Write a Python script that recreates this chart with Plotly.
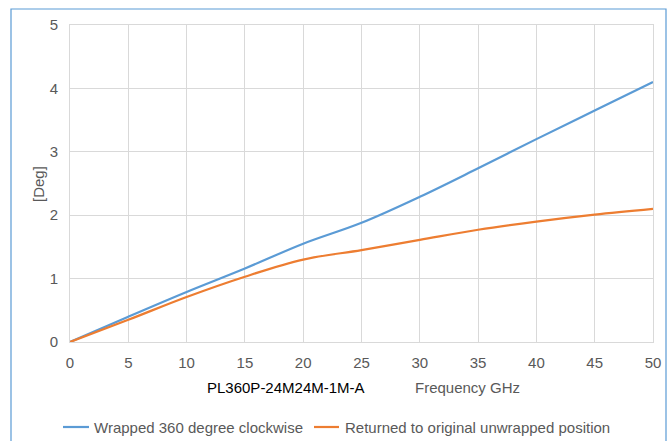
import plotly.graph_objects as go

freq = [0, 5, 10, 15, 20, 25, 30, 35, 40, 45, 50]
wrapped = [0, 0.40, 0.79, 1.16, 1.55, 1.88, 2.29, 2.74, 3.20, 3.65, 4.10]
returned = [0, 0.35, 0.71, 1.03, 1.30, 1.45, 1.61, 1.77, 1.90, 2.01, 2.10]
series_names = ["Wrapped 360 degree clockwise", "Returned to original unwrapped position"]
x_ticks = list(range(0, 51, 5))
y_ticks = [0, 1, 2, 3, 4, 5]

FONT = "Liberation Sans, Arial, sans-serif"
GRAY = "#595959"
BLUE = "#5B9BD5"
ORANGE = "#ED7D31"
FS = 15

fig = go.Figure()
fig.add_trace(go.Scatter(x=freq, y=wrapped, mode="lines", name=series_names[0],
                         line=dict(color=BLUE, width=2.2, shape="spline", smoothing=1.0)))
fig.add_trace(go.Scatter(x=freq, y=returned, mode="lines", name=series_names[1],
                         line=dict(color=ORANGE, width=2.2, shape="spline", smoothing=1.0)))

L, R, T, B = 70, 18, 25, 99
W, H = 671, 441
pw, ph = W - L - R, H - T - B

def px_x(px):
    return (px - L) / pw

def px_y(py):
    return (H - B - py) / ph

fig.update_layout(
    width=W, height=H,
    margin=dict(l=L, r=R, t=T, b=B, autoexpand=False),
    paper_bgcolor="white", plot_bgcolor="white",
    font=dict(family=FONT, size=FS, color=GRAY),
    showlegend=False,
    xaxis=dict(range=[0, 50], tickvals=x_ticks, showgrid=True, gridcolor="#d9d9d9", gridwidth=1,
               zeroline=False, showline=True, linecolor="#d9d9d9", mirror=True,
               ticks="outside", ticklen=7, tickcolor="rgba(0,0,0,0)",
               tickfont=dict(size=FS, color=GRAY), fixedrange=True),
    yaxis=dict(range=[0, 5], tickvals=y_ticks, showgrid=True, gridcolor="#d9d9d9", gridwidth=1,
               zeroline=False, showline=True, linecolor="#d9d9d9", mirror=True,
               ticks="outside", ticklen=8, tickcolor="rgba(0,0,0,0)",
               tickfont=dict(size=FS, color=GRAY), fixedrange=True),
)

# y-axis title
fig.add_annotation(text="[Deg]", xref="paper", yref="paper", x=px_x(38), y=px_y(184),
                   textangle=-90, showarrow=False, font=dict(size=FS, color=GRAY),
                   xanchor="center", yanchor="middle")

# x-axis title (two parts)
fig.add_annotation(text="PL360P-24M24M-1M-A", xref="paper", yref="paper",
                   x=px_x(205), y=px_y(387), showarrow=False,
                   font=dict(size=FS, color="black"), xanchor="left", yanchor="middle")
fig.add_annotation(text="Frequency GHz", xref="paper", yref="paper",
                   x=px_x(413), y=px_y(387), showarrow=False,
                   font=dict(size=FS, color=GRAY), xanchor="left", yanchor="middle")

# legend (manual)
leg_y = px_y(427)
for (lx0, lx1, tx, name, col) in [(63, 89, 94, series_names[0], BLUE),
                                  (314, 339, 345, series_names[1], ORANGE)]:
    fig.add_shape(type="line", xref="paper", yref="paper", x0=px_x(lx0), x1=px_x(lx1),
                  y0=leg_y, y1=leg_y, line=dict(color=col, width=2.2))
    fig.add_annotation(text=name, xref="paper", yref="paper", x=px_x(tx), y=leg_y,
                       showarrow=False, font=dict(size=FS, color=GRAY),
                       xanchor="left", yanchor="middle", xshift=-2)

# chart border
fig.add_shape(type="rect", xref="paper", yref="paper",
              x0=px_x(11), x1=px_x(666), y0=px_y(460), y1=px_y(9),
              line=dict(color=BLUE, width=1.2), fillcolor="rgba(0,0,0,0)", layer="below")

fig.write_html("out.html", config={"displayModeBar": False},
               post_script="document.body.style.margin='0';")
